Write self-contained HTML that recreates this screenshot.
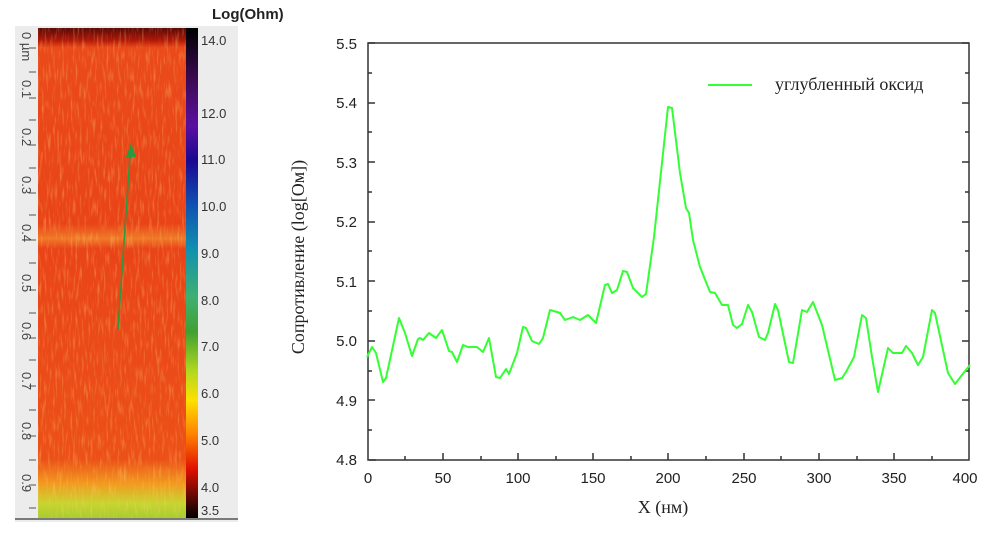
<!DOCTYPE html>
<html><head><meta charset="utf-8"><style>
body{margin:0;background:#fff;width:1004px;height:534px;overflow:hidden;position:relative;font-family:"Liberation Sans",sans-serif}
</style></head><body>
<svg width="1004" height="534" style="position:absolute;left:0;top:0">
<defs>
<filter id="n" x="0" y="0" width="1" height="1">
<feTurbulence type="fractalNoise" baseFrequency="0.45 0.06" numOctaves="2" seed="3"/>
<feColorMatrix type="matrix" values="0 0 0 0 1  0 0 0 0 0.7  0 0 0 0 0.2  0 0 0 2.0 -1.0"/>
</filter>
<linearGradient id="img" x1="0" y1="0" x2="0" y2="1">
<stop offset="0" stop-color="#5a0a08"/><stop offset="0.025" stop-color="#b01808"/><stop offset="0.04" stop-color="#ea4a1a"/>
<stop offset="0.4" stop-color="#e94418"/><stop offset="0.43" stop-color="#f07a28"/><stop offset="0.45" stop-color="#e94418"/>
<stop offset="0.88" stop-color="#ec5018"/><stop offset="0.93" stop-color="#f29a20"/><stop offset="0.97" stop-color="#c8d430"/><stop offset="1" stop-color="#a8cc30"/>
</linearGradient>
<linearGradient id="cb" x1="0" y1="0" x2="0" y2="1">
<stop offset="0" stop-color="#000"/><stop offset="0.1" stop-color="#3a0a50"/><stop offset="0.2" stop-color="#5a10a0"/>
<stop offset="0.27" stop-color="#1a0890"/><stop offset="0.36" stop-color="#1050b0"/><stop offset="0.45" stop-color="#1090b0"/>
<stop offset="0.55" stop-color="#40b070"/><stop offset="0.62" stop-color="#40a030"/><stop offset="0.7" stop-color="#b0d820"/>
<stop offset="0.76" stop-color="#ffe000"/><stop offset="0.83" stop-color="#ff8000"/><stop offset="0.9" stop-color="#e01000"/><stop offset="1" stop-color="#000"/>
</linearGradient>
</defs>
<rect x="15" y="26" width="223" height="496" fill="#ececec"/>
<rect x="38" y="28" width="148" height="490" fill="url(#img)"/>
<rect x="38" y="28" width="148" height="490" filter="url(#n)" opacity="0.45"/>
<rect x="186" y="28" width="12" height="490" fill="url(#cb)"/>
<line x1="15" y1="519" x2="238" y2="519" stroke="#555" stroke-width="1.5"/>
<line x1="118" y1="330" x2="130" y2="155" stroke="#2a9a40" stroke-width="1.5"/>
<polygon points="131,143 126,157 136,157" fill="#2a9a40"/>
<g stroke="#555" stroke-width="1">
<line x1="29" y1="48" x2="36" y2="48"/><line x1="29" y1="72" x2="36" y2="72"/><line x1="29" y1="98" x2="36" y2="98"/><line x1="29" y1="120" x2="36" y2="120"/><line x1="29" y1="145" x2="36" y2="145"/><line x1="29" y1="168" x2="36" y2="168"/><line x1="29" y1="193" x2="36" y2="193"/><line x1="29" y1="215" x2="36" y2="215"/><line x1="29" y1="240" x2="36" y2="240"/><line x1="29" y1="263" x2="36" y2="263"/><line x1="29" y1="290" x2="36" y2="290"/><line x1="29" y1="313" x2="36" y2="313"/><line x1="29" y1="338" x2="36" y2="338"/><line x1="29" y1="360" x2="36" y2="360"/><line x1="29" y1="386" x2="36" y2="386"/><line x1="29" y1="410" x2="36" y2="410"/><line x1="29" y1="436" x2="36" y2="436"/><line x1="29" y1="460" x2="36" y2="460"/><line x1="29" y1="485" x2="36" y2="485"/><line x1="29" y1="508" x2="36" y2="508"/>
</g>
<g font-family="Liberation Sans" font-size="13" fill="#444">
<text transform="translate(22,32) rotate(90)">0 µm</text>
<text transform="translate(22,80) rotate(90)">0.1</text>
<text transform="translate(22,128) rotate(90)">0.2</text>
<text transform="translate(22,176) rotate(90)">0.3</text>
<text transform="translate(22,224) rotate(90)">0.4</text>
<text transform="translate(22,274) rotate(90)">0.5</text>
<text transform="translate(22,322) rotate(90)">0.6</text>
<text transform="translate(22,372) rotate(90)">0.7</text>
<text transform="translate(22,422) rotate(90)">0.8</text>
<text transform="translate(22,474) rotate(90)">0.9</text>
</g>
<g font-family="Liberation Sans" font-size="13" fill="#333">
<text x="201" y="45">14.0</text><text x="201" y="118">12.0</text><text x="201" y="164">11.0</text><text x="201" y="211">10.0</text>
<text x="201" y="258">9.0</text><text x="201" y="305">8.0</text><text x="201" y="351">7.0</text><text x="201" y="398">6.0</text>
<text x="201" y="445">5.0</text><text x="201" y="492">4.0</text><text x="201" y="515">3.5</text>
<text x="212" y="19" font-weight="bold" font-size="15" fill="#222">Log(Ohm)</text>
</g>
<rect x="368" y="43" width="601" height="417" fill="none" stroke="#333" stroke-width="1.5"/>
<g stroke="#333" stroke-width="1.5">
<path d="M368 43h7M368 73h4M368 103h7M368 132h4M368 162h7M368 192h4M368 222h7M368 251h4M368 281h7M368 311h4M368 341h7M368 371h4M368 400h7M368 430h4M369 460h7"/>
<path d="M969 43h-7M969 73h-4M969 103h-7M969 132h-4M969 162h-7M969 192h-4M969 222h-7M969 251h-4M969 281h-7M969 311h-4M969 341h-7M969 371h-4M969 400h-7M969 430h-4"/>
<path d="M443 460v-7M518 460v-7M593 460v-7M668 460v-7M744 460v-7M819 460v-7M894 460v-7M405 460v-4M481 460v-4M556 460v-4M631 460v-4M706 460v-4M781 460v-4M857 460v-4M932 460v-4"/>
</g>
<g font-family="Liberation Sans" font-size="15" fill="#222" text-anchor="end">
<text x="357" y="49">5.5</text><text x="357" y="108">5.4</text><text x="357" y="168">5.3</text><text x="357" y="227">5.2</text>
<text x="357" y="287">5.1</text><text x="357" y="346">5.0</text><text x="357" y="406">4.9</text><text x="357" y="465">4.8</text>
</g>
<g font-family="Liberation Sans" font-size="15" fill="#222" text-anchor="middle">
<text x="368" y="483">0</text><text x="443" y="483">50</text><text x="518" y="483">100</text><text x="593" y="483">150</text><text x="668" y="483">200</text>
<text x="744" y="483">250</text><text x="819" y="483">300</text><text x="894" y="483">350</text><text x="965" y="483">400</text>
</g>
<text x="663" y="513" font-family="Liberation Serif" font-size="18" text-anchor="middle" fill="#222">X (нм)</text>
<text transform="translate(304,257) rotate(-90)" font-family="Liberation Serif" font-size="18" text-anchor="middle" fill="#222">Сопротивление (log[Ом])</text>
<line x1="708" y1="85" x2="752" y2="85" stroke="#33ff33" stroke-width="2"/>
<text x="775" y="90" font-family="Liberation Serif" font-size="18" fill="#222">углубленный оксид</text>
<polyline fill="none" stroke="#33ff33" stroke-width="2" stroke-linejoin="round" points="367,357 372,347 376,353 383,382 386,378 399,318 405,333 412,356 418,339 420,338 423,340 429,333 436,338 442,330 449,351 452,352 457,362 463,345 468,347 477,347 483,352 489,338 496,377 500,378 506,369 509,374 517,353 523,327 526,328 532,341 539,344 543,338 550,310 557,312 560,313 565,320 573,317 580,320 588,315 596,323 605,285 608,284 612,293 617,290 623,271 627,272 633,288 642,297 646,294 654,237 668,107 672,108 680,173 686,208 689,213 693,240 700,267 710,292 715,293 722,305 728,305 733,325 737,328 742,324 748,305 752,312 759,337 765,340 768,333 775,304 778,310 789,362 793,363 802,310 807,312 813,302 822,325 835,380 842,378 846,372 854,357 862,315 866,318 872,357 878,392 888,348 893,353 902,353 906,346 912,353 918,365 923,357 932,310 935,313 948,373 955,384 962,375 970,365"/>
</svg>
</body></html>
